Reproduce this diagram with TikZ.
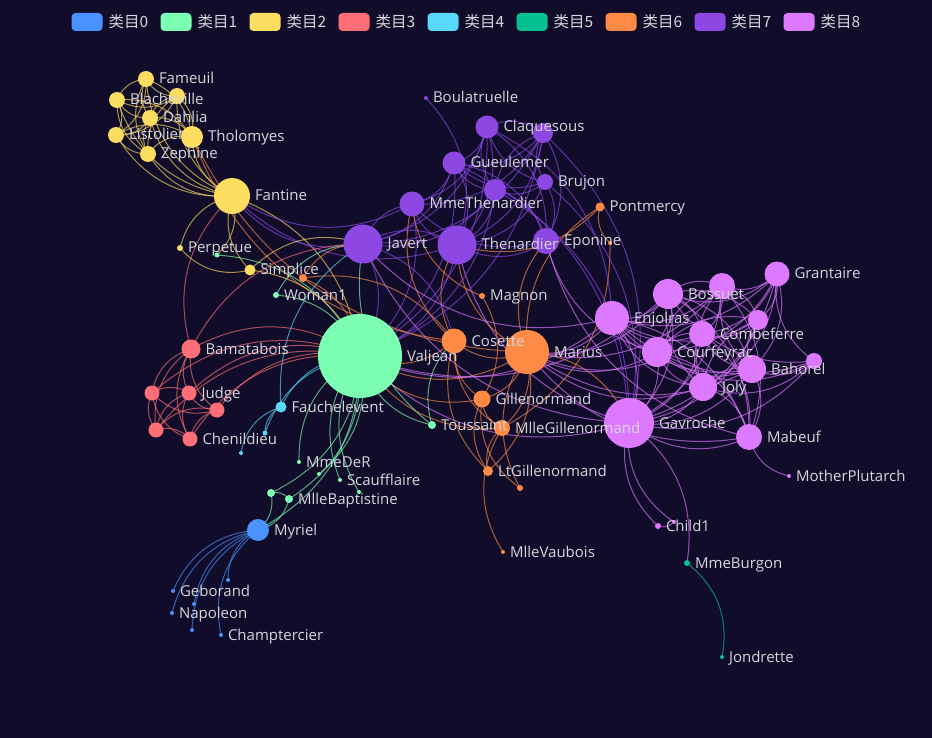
\documentclass[tikz,border=0pt]{standalone}
\usepackage{fontspec}
\setmainfont{Open Sans}
\newfontfamily\cjk{Noto Sans CJK SC}
\usepackage{tikz}
\usetikzlibrary{positioning,backgrounds}
\definecolor{bgdark}{RGB}{16,12,42}
\definecolor{labelgray}{RGB}{214,214,220}
\definecolor{cat0}{RGB}{73,146,255}
\definecolor{cat1}{RGB}{124,255,178}
\definecolor{cat2}{RGB}{253,221,96}
\definecolor{cat3}{RGB}{255,110,118}
\definecolor{cat4}{RGB}{88,217,249}
\definecolor{cat5}{RGB}{5,192,145}
\definecolor{cat6}{RGB}{255,138,69}
\definecolor{cat7}{RGB}{141,72,227}
\definecolor{cat8}{RGB}{221,121,255}

\begin{document}
\begin{tikzpicture}[
  x=1pt, y=-1pt,
  every node/.style={font=\fontsize{15}{17}\selectfont},
  dot/.style={circle, fill=#1, inner sep=0pt, outer sep=0pt},
  lbl/.style={text=labelgray, inner sep=0pt, outer sep=0pt, text height=12pt, text depth=2pt},
  key/.style={rectangle, rounded corners=4pt, fill=#1, minimum width=31pt, minimum height=18pt, inner sep=0pt, outer sep=0pt},
  keylbl/.style={lbl, font=\cjk\fontsize{15.5}{17}\selectfont, text height=13pt, text depth=2pt},
  ln/.style={color=#1, draw opacity=0.65, line width=1pt, bend left=31}
]
  \useasboundingbox (0,0) rectangle (932,738);

  % legend
  \node[key=cat0] (k0) at (87,22) {};
  \node[key=cat1] (k1) at (176,22) {};
  \node[key=cat2] (k2) at (265,22) {};
  \node[key=cat3] (k3) at (354,22) {};
  \node[key=cat4] (k4) at (443,22) {};
  \node[key=cat5] (k5) at (532,22) {};
  \node[key=cat6] (k6) at (621,22) {};
  \node[key=cat7] (k7) at (710,22) {};
  \node[key=cat8] (k8) at (799,22) {};
  \node[keylbl, right=6pt of k0] (t0) {类目0};
  \node[keylbl, right=6pt of k1] (t1) {类目1};
  \node[keylbl, right=6pt of k2] (t2) {类目2};
  \node[keylbl, right=6pt of k3] (t3) {类目3};
  \node[keylbl, right=6pt of k4] (t4) {类目4};
  \node[keylbl, right=6pt of k5] (t5) {类目5};
  \node[keylbl, right=6pt of k6] (t6) {类目6};
  \node[keylbl, right=6pt of k7] (t7) {类目7};
  \node[keylbl, right=6pt of k8] (t8) {类目8};

  % nodes
  \node[dot=cat0, minimum size=22] (Myriel) at (258,530) {};
  \node[dot=cat0, minimum size=4] (Napoleon) at (172,613) {};
  \node[dot=cat0, minimum size=4] (Geborand) at (173,591) {};
  \node[dot=cat0, minimum size=4] (Champtercier) at (221,635) {};
  \node[dot=cat0, minimum size=4] (CountessDeLo) at (228,580) {};
  \node[dot=cat0, minimum size=4] (Cravatte) at (194,604) {};
  \node[dot=cat0, minimum size=4] (Count) at (192,630) {};

  \node[dot=cat1, minimum size=84] (Valjean) at (360,356) {};
  \node[dot=cat1, minimum size=8] (MlleBaptistine) at (289,499) {};
  \node[dot=cat1, minimum size=8] (MmeMagloire) at (271,493) {};
  \node[dot=cat1, minimum size=4] (MmeDeR) at (299,462) {};
  \node[dot=cat1, minimum size=4] (Labarre) at (319,474) {};
  \node[dot=cat1, minimum size=4] (Scaufflaire) at (340,480) {};
  \node[dot=cat1, minimum size=4] (Gervais) at (359,492) {};
  \node[dot=cat1, minimum size=5] (Marguerite) at (217,255) {};
  \node[dot=cat1, minimum size=6] (Woman1) at (276,295) {};
  \node[dot=cat1, minimum size=8] (Toussaint) at (432,425) {};

  \node[dot=cat2, minimum size=16] (Fameuil) at (146,79) {};
  \node[dot=cat2, minimum size=16] (Favourite) at (177,96) {};
  \node[dot=cat2, minimum size=16] (Blacheville) at (117,100) {};
  \node[dot=cat2, minimum size=16] (Dahlia) at (150,118) {};
  \node[dot=cat2, minimum size=16] (Listolier) at (116,135) {};
  \node[dot=cat2, minimum size=22] (Tholomyes) at (192,137) {};
  \node[dot=cat2, minimum size=16] (Zephine) at (148,154) {};
  \node[dot=cat2, minimum size=36] (Fantine) at (232,196) {};
  \node[dot=cat2, minimum size=6] (Perpetue) at (180,248) {};
  \node[dot=cat2, minimum size=11] (Simplice) at (250,270) {};

  \node[dot=cat3, minimum size=19] (Bamatabois) at (191,349) {};
  \node[dot=cat3, minimum size=15] (Judge) at (189,393) {};
  \node[dot=cat3, minimum size=15] (Champmathieu) at (152,393) {};
  \node[dot=cat3, minimum size=15] (Brevet) at (217,410) {};
  \node[dot=cat3, minimum size=15] (Cochepaille) at (156,430) {};
  \node[dot=cat3, minimum size=15] (Chenildieu) at (190,439) {};

  \node[dot=cat4, minimum size=11] (Fauchelevent) at (281,407) {};
  \node[dot=cat4, minimum size=5] (MotherInnocent) at (265,433) {};
  \node[dot=cat4, minimum size=4] (Gribier) at (241,453) {};

  \node[dot=cat5, minimum size=6] (MmeBurgon) at (687,563) {};
  \node[dot=cat5, minimum size=4] (Jondrette) at (722,657) {};

  \node[dot=cat6, minimum size=9] (Pontmercy) at (600,207) {};
  \node[dot=cat6, minimum size=4] (MmePontmercy) at (610,243) {};
  \node[dot=cat6, minimum size=8] (Woman2) at (303,278) {};
  \node[dot=cat6, minimum size=6] (Magnon) at (482,296) {};
  \node[dot=cat6, minimum size=25] (Cosette) at (454,341) {};
  \node[dot=cat6, minimum size=44] (Marius) at (527,352) {};
  \node[dot=cat6, minimum size=17] (Gillenormand) at (482,399) {};
  \node[dot=cat6, minimum size=16] (MlleGillenormand) at (502,428) {};
  \node[dot=cat6, minimum size=10] (LtGillenormand) at (488,471) {};
  \node[dot=cat6, minimum size=6] (BaronessT) at (520,488) {};
  \node[dot=cat6, minimum size=4] (MlleVaubois) at (503,552) {};

  \node[dot=cat7, minimum size=4] (Boulatruelle) at (426,98) {};
  \node[dot=cat7, minimum size=23] (Claquesous) at (487,127) {};
  \node[dot=cat7, minimum size=20] (Babet) at (543,133) {};
  \node[dot=cat7, minimum size=23] (Gueulemer) at (454,163) {};
  \node[dot=cat7, minimum size=16] (Brujon) at (545,182) {};
  \node[dot=cat7, minimum size=22] (Montparnasse) at (495,190) {};
  \node[dot=cat7, minimum size=25] (MmeThenardier) at (412,204) {};
  \node[dot=cat7, minimum size=39] (Javert) at (363,244) {};
  \node[dot=cat7, minimum size=39] (Thenardier) at (457,245) {};
  \node[dot=cat7, minimum size=26] (Eponine) at (546,241) {};

  \node[dot=cat8, minimum size=34] (Enjolras) at (612,318) {};
  \node[dot=cat8, minimum size=30] (Bossuet) at (668,294) {};
  \node[dot=cat8, minimum size=26] (Feuilly) at (722,286) {};
  \node[dot=cat8, minimum size=25] (Grantaire) at (777,274) {};
  \node[dot=cat8, minimum size=20] (Prouvaire) at (758,320) {};
  \node[dot=cat8, minimum size=26] (Combeferre) at (702,334) {};
  \node[dot=cat8, minimum size=30] (Courfeyrac) at (657,352) {};
  \node[dot=cat8, minimum size=28] (Bahorel) at (752,369) {};
  \node[dot=cat8, minimum size=16] (MmeHucheloup) at (814,361) {};
  \node[dot=cat8, minimum size=28] (Joly) at (703,387) {};
  \node[dot=cat8, minimum size=50] (Gavroche) at (629,423) {};
  \node[dot=cat8, minimum size=26] (Mabeuf) at (749,437) {};
  \node[dot=cat8, minimum size=4] (MotherPlutarch) at (789,476) {};
  \node[dot=cat8, minimum size=6] (Child1) at (658,526) {};
  \node[dot=cat8, minimum size=4] (Child2) at (674,522) {};

  % labels
  \node[lbl, right=5pt of Myriel] (tMyriel) {Myriel};
  \node[lbl, right=5pt of Napoleon] (tNapoleon) {Napoleon};
  \node[lbl, right=5pt of Geborand] (tGeborand) {Geborand};
  \node[lbl, right=5pt of Champtercier] (tChamptercier) {Champtercier};
  \node[lbl, right=5pt of Valjean] (tValjean) {Valjean};
  \node[lbl, right=5pt of MlleBaptistine] (tMlleBaptistine) {MlleBaptistine};
  \node[lbl, right=5pt of MmeDeR] (tMmeDeR) {MmeDeR};
  \node[lbl, right=5pt of Scaufflaire] (tScaufflaire) {Scaufflaire};
  \node[lbl, right=5pt of Woman1] (tWoman1) {Woman1};
  \node[lbl, right=5pt of Toussaint] (tToussaint) {Toussaint};
  \node[lbl, right=5pt of Fameuil] (tFameuil) {Fameuil};
  \node[lbl, right=5pt of Blacheville] (tBlacheville) {Blacheville};
  \node[lbl, right=5pt of Dahlia] (tDahlia) {Dahlia};
  \node[lbl, right=5pt of Listolier] (tListolier) {Listolier};
  \node[lbl, right=5pt of Tholomyes] (tTholomyes) {Tholomyes};
  \node[lbl, right=5pt of Zephine] (tZephine) {Zephine};
  \node[lbl, right=5pt of Fantine] (tFantine) {Fantine};
  \node[lbl, right=5pt of Perpetue] (tPerpetue) {Perpetue};
  \node[lbl, right=5pt of Simplice] (tSimplice) {Simplice};
  \node[lbl, right=5pt of Bamatabois] (tBamatabois) {Bamatabois};
  \node[lbl, right=5pt of Judge] (tJudge) {Judge};
  \node[lbl, right=5pt of Chenildieu] (tChenildieu) {Chenildieu};
  \node[lbl, right=5pt of Fauchelevent] (tFauchelevent) {Fauchelevent};
  \node[lbl, right=5pt of MmeBurgon] (tMmeBurgon) {MmeBurgon};
  \node[lbl, right=5pt of Jondrette] (tJondrette) {Jondrette};
  \node[lbl, right=5pt of Pontmercy] (tPontmercy) {Pontmercy};
  \node[lbl, right=5pt of Magnon] (tMagnon) {Magnon};
  \node[lbl, right=5pt of Cosette] (tCosette) {Cosette};
  \node[lbl, right=5pt of Marius] (tMarius) {Marius};
  \node[lbl, right=5pt of Gillenormand] (tGillenormand) {Gillenormand};
  \node[lbl, right=5pt of MlleGillenormand] (tMlleGillenormand) {MlleGillenormand};
  \node[lbl, right=5pt of LtGillenormand] (tLtGillenormand) {LtGillenormand};
  \node[lbl, right=5pt of MlleVaubois] (tMlleVaubois) {MlleVaubois};
  \node[lbl, right=5pt of Boulatruelle] (tBoulatruelle) {Boulatruelle};
  \node[lbl, right=5pt of Claquesous] (tClaquesous) {Claquesous};
  \node[lbl, right=5pt of Gueulemer] (tGueulemer) {Gueulemer};
  \node[lbl, right=5pt of Brujon] (tBrujon) {Brujon};
  \node[lbl, right=5pt of MmeThenardier] (tMmeThenardier) {MmeThenardier};
  \node[lbl, right=5pt of Javert] (tJavert) {Javert};
  \node[lbl, right=5pt of Thenardier] (tThenardier) {Thenardier};
  \node[lbl, right=5pt of Eponine] (tEponine) {Eponine};
  \node[lbl, right=5pt of Enjolras] (tEnjolras) {Enjolras};
  \node[lbl, right=5pt of Bossuet] (tBossuet) {Bossuet};
  \node[lbl, right=5pt of Grantaire] (tGrantaire) {Grantaire};
  \node[lbl, right=5pt of Combeferre] (tCombeferre) {Combeferre};
  \node[lbl, right=5pt of Courfeyrac] (tCourfeyrac) {Courfeyrac};
  \node[lbl, right=5pt of Bahorel] (tBahorel) {Bahorel};
  \node[lbl, right=5pt of Joly] (tJoly) {Joly};
  \node[lbl, right=5pt of Gavroche] (tGavroche) {Gavroche};
  \node[lbl, right=5pt of Mabeuf] (tMabeuf) {Mabeuf};
  \node[lbl, right=5pt of MotherPlutarch] (tMotherPlutarch) {MotherPlutarch};
  \node[lbl, right=5pt of Child1] (tChild1) {Child1};

  % links, coloured by their source
  \begin{scope}[on background layer]
    \fill[bgdark] (0,0) rectangle (932,738);
    \path[ln=cat0] (Napoleon.center) edge (Myriel.center);
    \path[ln=cat1] (MlleBaptistine.center) edge (Myriel.center);
    \path[ln=cat1] (MmeMagloire.center) edge (Myriel.center) edge (MlleBaptistine.center);
    \path[ln=cat0] (CountessDeLo.center) edge (Myriel.center);
    \path[ln=cat0] (Geborand.center) edge (Myriel.center);
    \path[ln=cat0] (Champtercier.center) edge (Myriel.center);
    \path[ln=cat0] (Cravatte.center) edge (Myriel.center);
    \path[ln=cat0] (Count.center) edge (Myriel.center);
    \path[ln=cat1] (Valjean.center) edge (Labarre.center) edge (MmeMagloire.center) edge (MlleBaptistine.center) edge (Myriel.center);
    \path[ln=cat1] (Marguerite.center) edge (Valjean.center);
    \path[ln=cat1] (MmeDeR.center) edge (Valjean.center);
    \path[ln=cat1] (Gervais.center) edge (Valjean.center);
    \path[ln=cat2] (Listolier.center) edge (Tholomyes.center);
    \path[ln=cat2] (Fameuil.center) edge (Tholomyes.center) edge (Listolier.center);
    \path[ln=cat2] (Blacheville.center) edge (Tholomyes.center) edge (Listolier.center) edge (Fameuil.center);
    \path[ln=cat2] (Favourite.center) edge (Tholomyes.center) edge (Listolier.center) edge (Fameuil.center) edge (Blacheville.center);
    \path[ln=cat2] (Dahlia.center) edge (Tholomyes.center) edge (Listolier.center) edge (Fameuil.center) edge (Blacheville.center) edge (Favourite.center);
    \path[ln=cat2] (Zephine.center) edge (Tholomyes.center) edge (Listolier.center) edge (Fameuil.center) edge (Blacheville.center) edge (Favourite.center) edge (Dahlia.center);
    \path[ln=cat2] (Fantine.center) edge (Tholomyes.center) edge (Listolier.center) edge (Fameuil.center) edge (Blacheville.center) edge (Favourite.center) edge (Dahlia.center) edge (Zephine.center) edge (Marguerite.center) edge (Valjean.center);
    \path[ln=cat7] (MmeThenardier.center) edge (Fantine.center) edge (Valjean.center);
    \path[ln=cat7] (Thenardier.center) edge (MmeThenardier.center) edge (Fantine.center) edge (Valjean.center);
    \path[ln=cat6] (Cosette.center) edge (MmeThenardier.center) edge (Valjean.center) edge (Tholomyes.center) edge (Thenardier.center);
    \path[ln=cat7] (Javert.center) edge (Valjean.center) edge (Fantine.center) edge (Thenardier.center) edge (MmeThenardier.center) edge (Cosette.center);
    \path[ln=cat4] (Fauchelevent.center) edge (Valjean.center) edge (Javert.center);
    \path[ln=cat3] (Bamatabois.center) edge (Fantine.center) edge (Javert.center) edge (Valjean.center);
    \path[ln=cat2] (Perpetue.center) edge (Fantine.center);
    \path[ln=cat2] (Simplice.center) edge (Perpetue.center) edge (Valjean.center) edge (Fantine.center) edge (Javert.center);
    \path[ln=cat1] (Scaufflaire.center) edge (Valjean.center);
    \path[ln=cat1] (Woman1.center) edge (Valjean.center) edge (Javert.center);
    \path[ln=cat3] (Judge.center) edge (Valjean.center) edge (Bamatabois.center);
    \path[ln=cat3] (Champmathieu.center) edge (Judge.center) edge (Bamatabois.center) edge (Valjean.center);
    \path[ln=cat3] (Brevet.center) edge (Judge.center) edge (Champmathieu.center) edge (Valjean.center) edge (Bamatabois.center);
    \path[ln=cat3] (Chenildieu.center) edge (Judge.center) edge (Champmathieu.center) edge (Brevet.center) edge (Valjean.center) edge (Bamatabois.center);
    \path[ln=cat3] (Cochepaille.center) edge (Judge.center) edge (Champmathieu.center) edge (Brevet.center) edge (Chenildieu.center) edge (Valjean.center) edge (Bamatabois.center);
    \path[ln=cat6] (Pontmercy.center) edge (Thenardier.center);
    \path[ln=cat7] (Boulatruelle.center) edge (Thenardier.center);
    \path[ln=cat7] (Eponine.center) edge (MmeThenardier.center) edge (Thenardier.center);
    \path[ln=cat6] (Woman2.center) edge (Valjean.center) edge (Cosette.center) edge (Javert.center);
    \path[ln=cat4] (MotherInnocent.center) edge (Fauchelevent.center) edge (Valjean.center);
    \path[ln=cat4] (Gribier.center) edge (Fauchelevent.center);
    \path[ln=cat5] (MmeBurgon.center) edge (Jondrette.center);
    \path[ln=cat8] (Gavroche.center) edge (MmeBurgon.center) edge (Thenardier.center) edge (Javert.center) edge (Valjean.center);
    \path[ln=cat6] (Gillenormand.center) edge (Cosette.center) edge (Valjean.center);
    \path[ln=cat6] (Magnon.center) edge (Gillenormand.center) edge (MmeThenardier.center);
    \path[ln=cat6] (MlleGillenormand.center) edge (Gillenormand.center) edge (Cosette.center) edge (Valjean.center);
    \path[ln=cat6] (MmePontmercy.center) edge (MlleGillenormand.center) edge (Pontmercy.center);
    \path[ln=cat6] (MlleVaubois.center) edge (MlleGillenormand.center);
    \path[ln=cat6] (LtGillenormand.center) edge (MlleGillenormand.center) edge (Gillenormand.center) edge (Cosette.center);
    \path[ln=cat6] (Marius.center) edge (MlleGillenormand.center) edge (Gillenormand.center) edge (Pontmercy.center) edge (LtGillenormand.center) edge (Cosette.center) edge (Valjean.center) edge (Tholomyes.center) edge (Thenardier.center) edge (Eponine.center) edge (Gavroche.center);
    \path[ln=cat6] (BaronessT.center) edge (Gillenormand.center) edge (Marius.center);
    \path[ln=cat8] (Mabeuf.center) edge (Marius.center) edge (Eponine.center) edge (Gavroche.center);
    \path[ln=cat8] (Enjolras.center) edge (Marius.center) edge (Gavroche.center) edge (Javert.center) edge (Mabeuf.center) edge (Valjean.center);
    \path[ln=cat8] (Combeferre.center) edge (Enjolras.center) edge (Marius.center) edge (Gavroche.center) edge (Mabeuf.center);
    \path[ln=cat8] (Prouvaire.center) edge (Gavroche.center) edge (Enjolras.center) edge (Combeferre.center);
    \path[ln=cat8] (Feuilly.center) edge (Gavroche.center) edge (Enjolras.center) edge (Prouvaire.center) edge (Combeferre.center) edge (Mabeuf.center) edge (Marius.center);
    \path[ln=cat8] (Courfeyrac.center) edge (Marius.center) edge (Enjolras.center) edge (Combeferre.center) edge (Gavroche.center) edge (Mabeuf.center) edge (Eponine.center) edge (Feuilly.center) edge (Prouvaire.center);
    \path[ln=cat8] (Bahorel.center) edge (Combeferre.center) edge (Gavroche.center) edge (Courfeyrac.center) edge (Mabeuf.center) edge (Enjolras.center) edge (Feuilly.center) edge (Prouvaire.center) edge (Marius.center);
    \path[ln=cat8] (Bossuet.center) edge (Marius.center) edge (Courfeyrac.center) edge (Gavroche.center) edge (Bahorel.center) edge (Enjolras.center) edge (Feuilly.center) edge (Prouvaire.center) edge (Combeferre.center) edge (Mabeuf.center) edge (Valjean.center);
    \path[ln=cat8] (Joly.center) edge (Bahorel.center) edge (Bossuet.center) edge (Gavroche.center) edge (Courfeyrac.center) edge (Enjolras.center) edge (Feuilly.center) edge (Prouvaire.center) edge (Combeferre.center) edge (Mabeuf.center) edge (Marius.center);
    \path[ln=cat8] (Grantaire.center) edge (Bossuet.center) edge (Enjolras.center) edge (Combeferre.center) edge (Courfeyrac.center) edge (Joly.center) edge (Gavroche.center) edge (Bahorel.center) edge (Feuilly.center) edge (Prouvaire.center);
    \path[ln=cat8] (MotherPlutarch.center) edge (Mabeuf.center);
    \path[ln=cat7] (Gueulemer.center) edge (Thenardier.center) edge (Valjean.center) edge (MmeThenardier.center) edge (Javert.center) edge (Gavroche.center) edge (Eponine.center);
    \path[ln=cat7] (Babet.center) edge (Thenardier.center) edge (Gueulemer.center) edge (Valjean.center) edge (MmeThenardier.center) edge (Javert.center) edge (Gavroche.center) edge (Eponine.center);
    \path[ln=cat7] (Claquesous.center) edge (Thenardier.center) edge (Babet.center) edge (Gueulemer.center) edge (Valjean.center) edge (MmeThenardier.center) edge (Javert.center) edge (Eponine.center) edge (Enjolras.center);
    \path[ln=cat7] (Montparnasse.center) edge (Javert.center) edge (Babet.center) edge (Gueulemer.center) edge (Claquesous.center) edge (Valjean.center) edge (Gavroche.center) edge (Eponine.center) edge (Thenardier.center);
    \path[ln=cat1] (Toussaint.center) edge (Cosette.center) edge (Javert.center) edge (Valjean.center);
    \path[ln=cat8] (Child1.center) edge (Gavroche.center);
    \path[ln=cat8] (Child2.center) edge (Gavroche.center) edge (Child1.center);
    \path[ln=cat7] (Brujon.center) edge (Babet.center) edge (Gueulemer.center) edge (Thenardier.center) edge (Gavroche.center) edge (Eponine.center) edge (Claquesous.center) edge (Montparnasse.center);
    \path[ln=cat8] (MmeHucheloup.center) edge (Bossuet.center) edge (Joly.center) edge (Grantaire.center) edge (Bahorel.center) edge (Courfeyrac.center) edge (Gavroche.center) edge (Enjolras.center);
  \end{scope}
\end{tikzpicture}
\end{document}
